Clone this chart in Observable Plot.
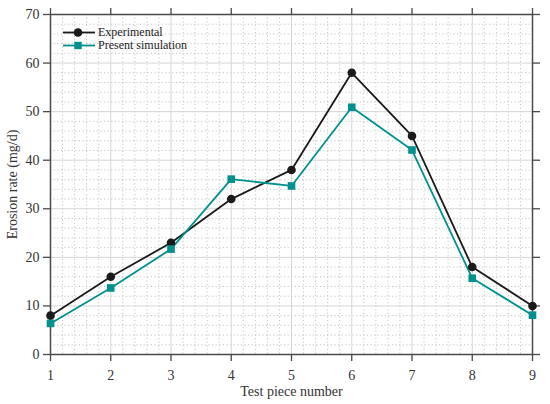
<!DOCTYPE html>
<html>
<head>
<meta charset="utf-8">
<script src="https://cdn.jsdelivr.net/npm/d3@7"></script>
<script src="https://cdn.jsdelivr.net/npm/@observablehq/plot@0.6"></script>
<style>
  html, body { margin: 0; padding: 0; background: #fff; }
  #wrap { position: relative; width: 550px; height: 404px; font-family: "Liberation Serif", "DejaVu Serif", serif; }
  #legend { position: absolute; left: 62px; top: 26px; font-size: 12px; color: #222; }
  #legend .item { display: flex; align-items: center; height: 13px; }
  #legend svg { display: block; margin-right: 2px; }
</style>
</head>
<body>
<div id="wrap"><div id="legend"></div></div>
<script>
const pieces = [1, 2, 3, 4, 5, 6, 7, 8, 9];
const experimental = [8, 16, 23, 32, 38, 58, 45, 18, 10];
const simulation = [6.4, 13.7, 21.7, 36.1, 34.7, 50.9, 42.1, 15.7, 8.1];
const seriesNames = ["Experimental", "Present simulation"];
const seriesColors = ["#1a1a1a", "#00918e"];
const xTicks = [1, 2, 3, 4, 5, 6, 7, 8, 9];
const yTicks = [0, 10, 20, 30, 40, 50, 60, 70];
const xMinor = d3.range(1, 9.001, 0.2).filter(v => Math.abs(v - Math.round(v)) > 1e-6);
const yMinor = d3.range(0, 70.001, 2).filter(v => v % 10 !== 0);

const expData = pieces.map((p, i) => ({piece: p, value: experimental[i]}));
const simData = pieces.map((p, i) => ({piece: p, value: simulation[i]}));

const axisColor = "#4a4a4a";
const fontSize = 14;

const chart = Plot.plot({
  width: 550,
  height: 404,
  marginLeft: 50,
  marginRight: 18,
  marginTop: 14,
  marginBottom: 50,
  style: {fontFamily: '"Liberation Serif", serif', fontSize: fontSize + "px", color: "#333", background: "#fff"},
  x: {domain: [1, 9]},
  y: {domain: [0, 70]},
  marks: [
    Plot.gridX(xMinor, {stroke: "#b8b8b8", strokeOpacity: 1, strokeDasharray: "1.2,2.4", strokeWidth: 0.8}),
    Plot.gridY(yMinor, {stroke: "#b8b8b8", strokeOpacity: 1, strokeDasharray: "1.2,2.4", strokeWidth: 0.8}),
    Plot.gridX(xTicks, {stroke: "#d6d6d6", strokeOpacity: 1, strokeWidth: 1}),
    Plot.gridY(yTicks, {stroke: "#d6d6d6", strokeOpacity: 1, strokeWidth: 1}),
    Plot.axisX({ticks: xTicks, tickSize: 7, tickPadding: 9, stroke: axisColor, strokeWidth: 1.3, fontSize: fontSize,
      label: "Test piece number", labelAnchor: "center", labelArrow: "none", labelOffset: 41, fill: "#333"}),
    Plot.axisX({anchor: "top", ticks: xTicks, tickSize: 7, tickFormat: () => "", stroke: axisColor, strokeWidth: 1.3, label: null}),
    Plot.axisY({ticks: yTicks, tickSize: 7, tickPadding: 4, stroke: axisColor, strokeWidth: 1.3, fontSize: fontSize,
      label: "Erosion rate (mg/d)", labelAnchor: "center", labelArrow: "none", labelOffset: 43, fill: "#333"}),
    Plot.axisY({anchor: "right", ticks: yTicks, tickSize: 7, tickFormat: () => "", stroke: axisColor, strokeWidth: 1.3, label: null}),
    Plot.frame({stroke: axisColor, strokeWidth: 1.5}),
    Plot.line(expData, {x: "piece", y: "value", stroke: seriesColors[0], strokeWidth: 1.8}),
    Plot.line(simData, {x: "piece", y: "value", stroke: seriesColors[1], strokeWidth: 1.8}),
    Plot.dot(expData, {x: "piece", y: "value", r: 4.3, fill: seriesColors[0], stroke: "none"}),
    Plot.dot(simData, {x: "piece", y: "value", symbol: "square", r: 4.3, fill: seriesColors[1], stroke: "none"})
  ]
});
document.getElementById("wrap").prepend(chart);

const legend = document.getElementById("legend");
seriesNames.forEach((name, i) => {
  const item = document.createElement("div");
  item.className = "item";
  const svg = i === 0
    ? `<svg width="34" height="13"><line x1="1" y1="6.5" x2="33" y2="6.5" stroke="${seriesColors[i]}" stroke-width="1.8"/><circle cx="16" cy="6.5" r="4.3" fill="${seriesColors[i]}"/></svg>`
    : `<svg width="34" height="13"><line x1="1" y1="6.5" x2="33" y2="6.5" stroke="${seriesColors[i]}" stroke-width="1.8"/><rect x="12.3" y="2.8" width="7.4" height="7.4" fill="${seriesColors[i]}"/></svg>`;
  item.innerHTML = svg + `<span>${name}</span>`;
  legend.appendChild(item);
});
</script>
</body>
</html>
